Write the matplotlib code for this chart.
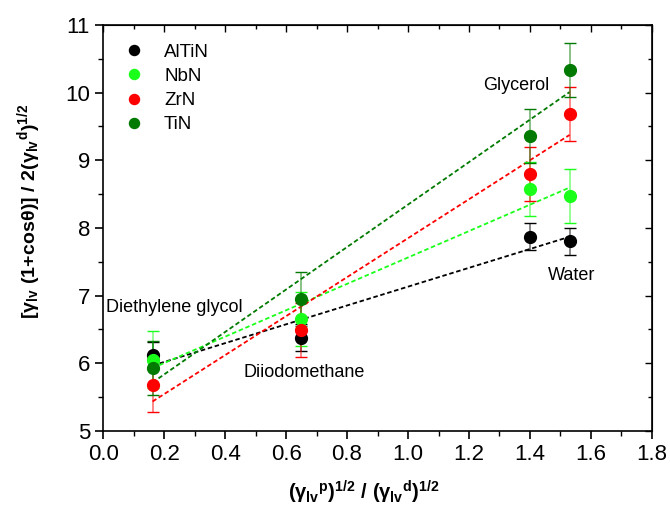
import matplotlib
matplotlib.use('Agg')
import matplotlib.pyplot as plt
import numpy as np
from matplotlib.ticker import MultipleLocator, FormatStrFormatter

## fonts: arial-like everywhere, bold maths for the axis titles
plt.rcParams['font.family'] = ['Liberation Sans', 'DejaVu Sans']
plt.rcParams['mathtext.fontset'] = 'custom'
plt.rcParams['mathtext.rm'] = 'Liberation Sans:bold'
plt.rcParams['mathtext.it'] = 'Liberation Sans:bold'
plt.rcParams['mathtext.bf'] = 'Liberation Sans:bold'

## x positions of the four liquids
liquids = ['Diethylene glycol', 'Diiodomethane', 'Glycerol', 'Water']
x_vals = [0.162, 0.65, 1.40, 1.53]

## y values per coating
coatings = ['AlTiN', 'NbN', 'ZrN', 'TiN']
altin = [6.12, 6.38, 7.87, 7.80]
nbn = [6.05, 6.66, 8.57, 8.47]
zrn = [5.68, 6.49, 8.80, 9.68]
tin = [5.93, 6.95, 9.36, 10.33]

## error bars
altin_err = [0.2, 0.2, 0.2, 0.2]
nbn_err = [0.42, 0.4, 0.4, 0.4]
zrn_err = [0.4, 0.4, 0.4, 0.4]
tin_err = [0.4, 0.4, 0.4, 0.4]

colors = ['black', '#1aff1a', '#ff0000', '#007a00']

## where the liquid names sit
label_x = [0.233, 0.66, 1.354, 1.538]
label_y = [6.83, 5.87, 10.10, 7.29]

fig = plt.figure(figsize=(6.7, 5.18), dpi=100)
ax = fig.add_axes([0.154, 0.168, 0.819, 0.784])

series = [altin, nbn, zrn, tin]
errors = [altin_err, nbn_err, zrn_err, tin_err]

## fitted dashed lines first, then the points on top
for y, c in zip(series, colors):
	slope, inter = np.polyfit(x_vals, y, 1)
	xs = np.array([x_vals[0], x_vals[-1]])
	ax.plot(xs, slope * xs + inter, linestyle=(0, (2.5, 1.5)), color=c, linewidth=1.3, zorder=2)

for y, e, c, name in zip(series, errors, colors, coatings):
	pts, caps, bars = ax.errorbar(x_vals, y, yerr=e, fmt='o', color=c, markersize=8.5,
								  capsize=4, elinewidth=1.2, capthick=1.0, label=name, zorder=3)
	for b in bars:
		b.set_alpha(0.55)

for name, lx, ly in zip(liquids, label_x, label_y):
	ax.text(lx, ly, name, fontsize=13, ha='center', va='center')

ax.set_xlim(0.0, 1.8)
ax.set_ylim(5, 11)
ax.xaxis.set_major_locator(MultipleLocator(0.2))
ax.xaxis.set_minor_locator(MultipleLocator(0.1))
ax.yaxis.set_major_locator(MultipleLocator(1))
ax.yaxis.set_minor_locator(MultipleLocator(0.5))
ax.tick_params(which='major', direction='out', length=6, width=1.2, labelsize=16)
ax.tick_params(which='minor', direction='out', length=3.5, width=1.0)
ax.xaxis.set_major_formatter(FormatStrFormatter('%.1f'))

## mirrored ticks on top and right, pointing inwards
top = ax.secondary_xaxis('top')
top.xaxis.set_major_locator(MultipleLocator(0.2))
top.xaxis.set_minor_locator(MultipleLocator(0.1))
top.tick_params(which='major', direction='in', length=5, width=1.0, labeltop=False)
top.tick_params(which='minor', direction='in', length=3, width=1.0)
right = ax.secondary_yaxis('right')
right.yaxis.set_major_locator(MultipleLocator(1))
right.yaxis.set_minor_locator(MultipleLocator(0.5))
right.tick_params(which='major', direction='in', length=5, width=1.0, labelright=False)
right.tick_params(which='minor', direction='in', length=3, width=1.0)

for s in ax.spines.values():
	s.set_linewidth(1.2)

ax.set_xlabel(r'$(\gamma_{lv}{}^{p})^{1/2}\ /\ (\gamma_{lv}{}^{d})^{1/2}$', fontsize=14.5)
ax.set_ylabel(r'$[\gamma_{lv}\ (1\!+\!cos\theta)]\ /\ 2(\gamma_{lv}{}^{d})^{1/2}$', fontsize=14)
ax.xaxis.set_label_coords(0.475, -0.118)
ax.yaxis.set_label_coords(-0.11, 0.54)

## legend: markers only, no frame
handles, labels = ax.get_legend_handles_labels()
handles = [h[0] for h in handles]
leg = ax.legend(handles, labels, loc='upper left', frameon=False, fontsize=13.5,
				markerscale=0.85, handletextpad=0.6, labelspacing=0.38,
				bbox_to_anchor=(-0.012, 1.0), borderaxespad=0.6)

fig.savefig('out.png', dpi=100)
